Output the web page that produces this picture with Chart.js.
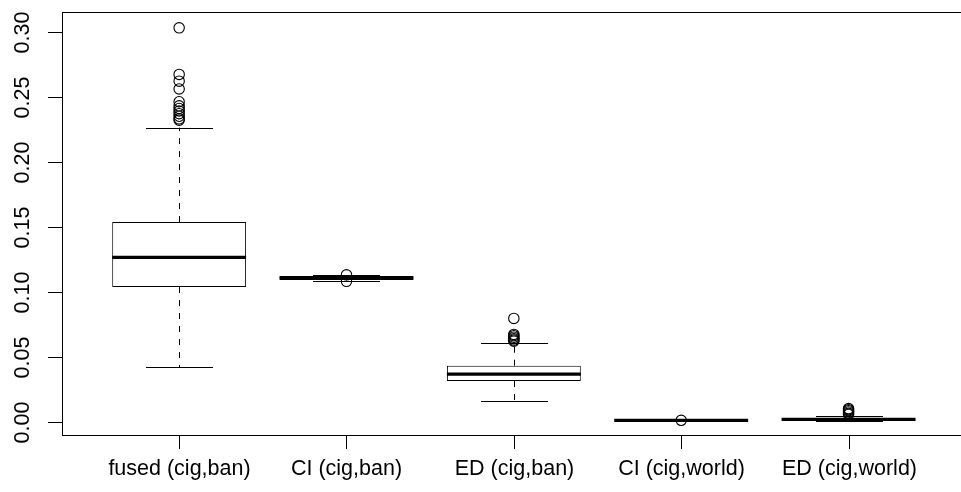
<!DOCTYPE html>
<html>
<head>
<meta charset="utf-8">
<script src="https://cdn.jsdelivr.net/npm/chart.js@4/dist/chart.umd.min.js"></script>
<style>
  html, body { margin: 0; padding: 0; background: #fff; overflow: hidden; }
  #wrap { width: 972px; height: 492px; }
</style>
</head>
<body>
<div id="wrap"><canvas id="c" width="972" height="492"></canvas></div>
<script>
// ---- data ----
const categories = ['fused (cig,ban)', 'CI (cig,ban)', 'ED (cig,ban)', 'CI (cig,world)', 'ED (cig,world)'];
const lowerWhisker = [0.0421, 0.1086, 0.0162, 0.0004, 0.0003];
const q1           = [0.1036, 0.1090, 0.0313, 0.0007, 0.0012];
const median       = [0.1265, 0.1106, 0.0367, 0.0010, 0.0018];
const q3           = [0.1536, 0.1121, 0.0431, 0.0013, 0.0025];
const upperWhisker = [0.2262, 0.1126, 0.0608, 0.0016, 0.0045];
const outliers = [
  [0.3030, 0.2672, 0.2620, 0.2560, 0.2462, 0.2430, 0.2410, 0.2390, 0.2370, 0.2350, 0.2330, 0.2320],
  [0.1130, 0.1080],
  [0.0795, 0.0672, 0.0662, 0.0650, 0.0638, 0.0628, 0.0620],
  [0.0011],
  [0.0101, 0.0093, 0.0085, 0.0075, 0.0065, 0.0056]
];
const yTicks = [0.00, 0.05, 0.10, 0.15, 0.20, 0.25, 0.30];
const yTickLabels = ['0.00', '0.05', '0.10', '0.15', '0.20', '0.25', '0.30'];
const xPositions = [1, 2, 3, 4, 5];

// ---- build datasets ----
const boxData = xPositions.map((x, i) => ({ x: x, y: [q1[i], q3[i]] }));
const outlierData = [];
outliers.forEach((arr, i) => arr.forEach(v => outlierData.push({ x: xPositions[i], y: v })));

const FONT = '21.5px "Liberation Sans", Arial, Helvetica, sans-serif';

const boxPlugin = {
  id: 'boxPlugin',
  beforeDatasetsDraw(chart) {
    const ctx = chart.ctx, xs = chart.scales.x, ys = chart.scales.y;
    const meta = chart.getDatasetMeta(1);
    ctx.save();
    ctx.strokeStyle = '#000';
    ctx.lineWidth = 1;
    xPositions.forEach((xv, i) => {
      const px = Math.round(xs.getPixelForValue(xv)) + 0.5;
      const bw = meta.data[i] ? meta.data[i].width : 134;
      const half = bw / 4;
      // dashed whiskers
      ctx.setLineDash([6, 7]);
      ctx.beginPath();
      ctx.moveTo(px, ys.getPixelForValue(q3[i]));
      ctx.lineTo(px, ys.getPixelForValue(upperWhisker[i]));
      ctx.moveTo(px, ys.getPixelForValue(q1[i]));
      ctx.lineTo(px, ys.getPixelForValue(lowerWhisker[i]));
      ctx.stroke();
      // staples
      ctx.setLineDash([]);
      ctx.beginPath();
      const yu = Math.round(ys.getPixelForValue(upperWhisker[i])) + 0.5;
      const yl = Math.round(ys.getPixelForValue(lowerWhisker[i])) + 0.5;
      ctx.moveTo(px - half, yu); ctx.lineTo(px + half, yu);
      ctx.moveTo(px - half, yl); ctx.lineTo(px + half, yl);
      ctx.stroke();
    });
    ctx.restore();
  },
  afterDatasetDraw(chart, args) {
    if (args.index !== 1) return;
    const ctx = chart.ctx, xs = chart.scales.x, ys = chart.scales.y;
    const meta = chart.getDatasetMeta(1);
    ctx.save();
    ctx.strokeStyle = '#000';
    ctx.lineWidth = 3.3;
    ctx.lineCap = 'butt';
    xPositions.forEach((xv, i) => {
      const px = xs.getPixelForValue(xv);
      const bw = meta.data[i].width;
      const y = ys.getPixelForValue(median[i]);
      ctx.beginPath();
      ctx.moveTo(px - bw / 2, y); ctx.lineTo(px + bw / 2, y);
      ctx.stroke();
    });
    ctx.restore();
  },
  afterDraw(chart) {
    const ctx = chart.ctx, xs = chart.scales.x, ys = chart.scales.y;
    const a = chart.chartArea;
    ctx.save();
    ctx.strokeStyle = '#000';
    ctx.lineWidth = 1;
    // frame
    ctx.strokeRect(Math.round(a.left) + 0.5, Math.round(a.top) + 0.5,
                   Math.round(a.right - a.left), Math.round(a.bottom - a.top));
    // y ticks + labels
    ctx.fillStyle = '#000';
    ctx.font = FONT;
    yTicks.forEach((v, i) => {
      const y = Math.round(ys.getPixelForValue(v)) + 0.5;
      ctx.beginPath();
      ctx.moveTo(a.left, y); ctx.lineTo(a.left - 14, y);
      ctx.stroke();
      ctx.save();
      ctx.translate(23, y);
      ctx.rotate(-Math.PI / 2);
      ctx.textAlign = 'center';
      ctx.textBaseline = 'middle';
      ctx.fillText(yTickLabels[i], 0, 0);
      ctx.restore();
    });
    // x ticks + labels
    xPositions.forEach((xv, i) => {
      const x = Math.round(xs.getPixelForValue(xv)) + 0.5;
      ctx.beginPath();
      ctx.moveTo(x, a.bottom); ctx.lineTo(x, a.bottom + 14);
      ctx.stroke();
      ctx.textAlign = 'center';
      ctx.textBaseline = 'middle';
      ctx.fillText(categories[i], x, 469);
    });
    ctx.restore();
  }
};

new Chart(document.getElementById('c'), {
  type: 'bar',
  data: {
    datasets: [
      {
        type: 'scatter',
        data: outlierData,
        pointStyle: 'circle',
        pointRadius: 5.2,
        pointHoverRadius: 5.2,
        borderColor: '#000',
        backgroundColor: 'rgba(0,0,0,0)',
        borderWidth: 1.1,
        order: 1
      },
      {
        type: 'bar',
        data: boxData,
        backgroundColor: '#fff',
        borderColor: '#000',
        borderWidth: 1,
        borderSkipped: false,
        barPercentage: 0.8,
        categoryPercentage: 1.0,
        order: 2
      }
    ]
  },
  options: {
    responsive: false,
    animation: false,
    events: [],
    layout: { padding: { left: 62, top: 12, right: 1, bottom: 57 } },
    plugins: { legend: { display: false }, tooltip: { enabled: false } },
    scales: {
      x: {
        type: 'linear', display: false, min: 0.3, max: 5.7, offset: false,
        grid: { offset: false },
        afterBuildTicks: (s) => { s.ticks = xPositions.map(v => ({ value: v })); }
      },
      y: {
        type: 'linear', display: false, min: -0.0102, max: 0.3152,
        afterBuildTicks: (s) => { s.ticks = yTicks.map(v => ({ value: v })); }
      }
    }
  },
  plugins: [boxPlugin]
});
</script>
</body>
</html>
